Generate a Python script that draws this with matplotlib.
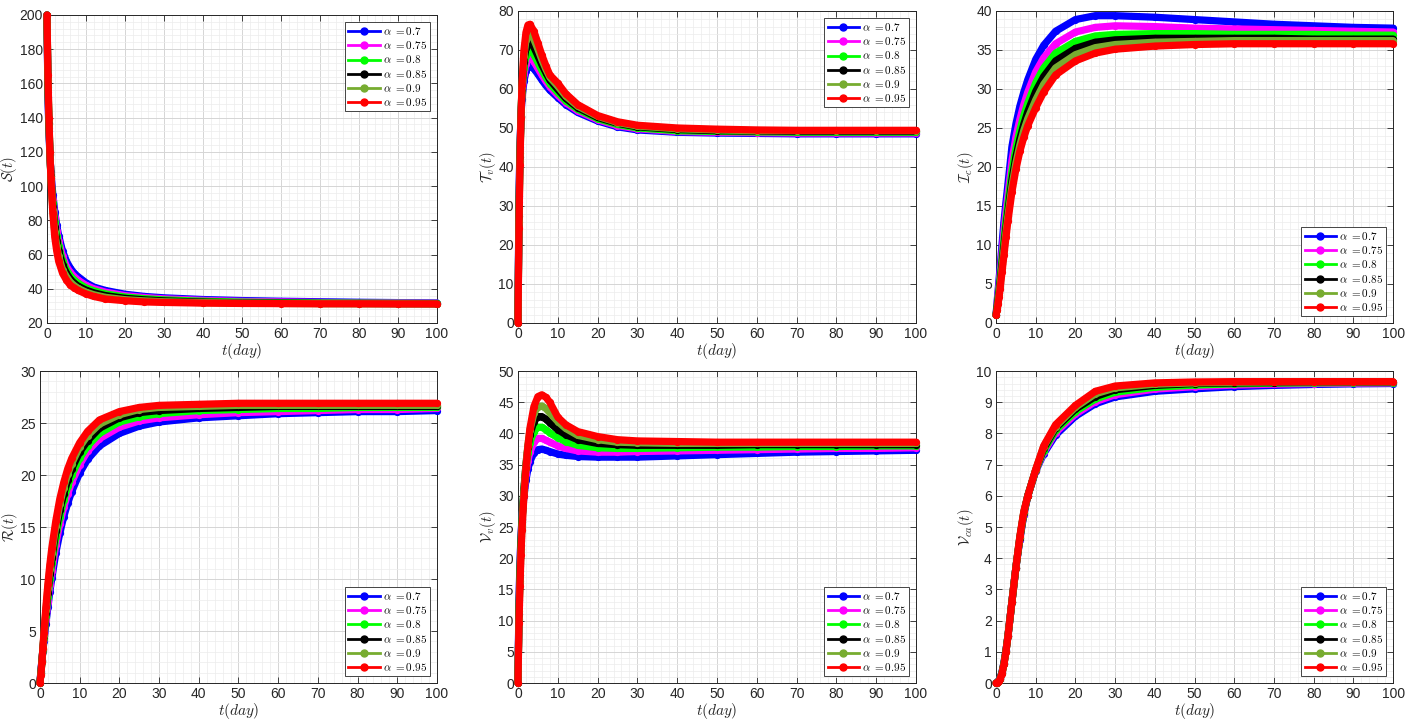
import numpy as np
import matplotlib
matplotlib.use('Agg')
import matplotlib.pyplot as plt
from matplotlib.lines import Line2D
from matplotlib.ticker import MultipleLocator, AutoMinorLocator

plt.rcParams['mathtext.fontset'] = 'cm'
plt.rcParams['font.family'] = ['Liberation Sans', 'DejaVu Sans']

# time points (days)
t = [0, 0.25, 0.5, 0.75, 1, 1.5, 2, 2.5, 3, 4, 5, 6, 7, 8, 10, 12, 15, 20,
     25, 30, 40, 50, 60, 70, 80, 90, 100]

alphas = ['0.7', '0.75', '0.8', '0.85', '0.9', '0.95']
colors = ['#0000ff', '#ff00ff', '#00ff00', '#000000', '#77ac30', '#ff0000']

###S(t)###
S_07 = [200, 152, 132, 118, 108, 95, 85, 77, 71, 62, 56, 52, 49, 47, 43.5, 41, 39, 36.8,
        35.5, 34.7, 33.7, 33.1, 32.7, 32.4, 32.1, 31.9, 31.7]
S_075 = [200, 155, 134, 119, 107, 92, 82, 74, 68, 59, 53, 49.5, 47, 45, 42, 40, 38, 36,
         34.9, 34.1, 33.2, 32.6, 32.3, 32.0, 31.8, 31.7, 31.5]
S_08 = [200, 158, 136, 119, 106, 90, 79, 71, 65, 56, 51, 47.5, 45, 43.2, 40.5, 38.8, 37, 35.2,
        34.2, 33.5, 32.7, 32.2, 31.9, 31.7, 31.6, 31.5, 31.4]
S_085 = [200, 160, 137, 120, 106, 88, 76, 68, 62, 54, 49, 45.5, 43.2, 41.5, 39.2, 37.6, 36, 34.4,
         33.5, 32.9, 32.2, 31.8, 31.6, 31.4, 31.4, 31.3, 31.2]
S_09 = [200, 162, 139, 120, 105, 86, 73, 65, 59, 51, 47, 43.8, 41.8, 40.2, 38, 36.5, 35, 33.6,
        32.9, 32.4, 31.9, 31.6, 31.4, 31.3, 31.2, 31.2, 31.1]
S_095 = [200, 165, 140, 120, 105, 84, 70, 62, 56, 49, 45, 42, 40.5, 39, 37, 35.5, 34, 33,
         32.3, 32, 31.6, 31.4, 31.3, 31.2, 31.2, 31.1, 31.1]

###T_v(t)###
T_07 = [0, 32.5, 45, 53, 57.5, 62, 64.5, 65.7, 66, 65.2, 63.8, 62.3, 60.9, 59.7, 57.8, 56, 54, 51.8,
        50.3, 49.5, 48.9, 48.7, 48.6, 48.5, 48.5, 48.5, 48.5]
T_075 = [0, 31, 44.5, 53, 58.5, 63.8, 66.5, 67.8, 68, 67, 65.3, 63.6, 62, 60.6, 58.4, 56.5, 54.4, 52.1,
         50.6, 49.8, 49.1, 48.9, 48.8, 48.7, 48.7, 48.7, 48.7]
T_08 = [0, 29.5, 43.5, 53, 59.5, 65.5, 68.5, 69.8, 70, 68.8, 66.8, 64.8, 63, 61.4, 59.1, 57, 54.8, 52.4,
        50.9, 50, 49.3, 49.1, 49, 48.9, 48.9, 48.9, 48.9]
T_085 = [0, 27.5, 42.5, 52.8, 60, 67, 70.5, 71.8, 72, 70.7, 68.5, 66.2, 64.2, 62.3, 59.9, 57.6, 55.2, 52.7,
         51.2, 50.3, 49.6, 49.3, 49.2, 49.1, 49.1, 49.1, 49.1]
T_09 = [0, 26, 41.5, 52.7, 60.5, 68.5, 72.5, 74, 74.2, 72.7, 70.2, 67.5, 65.1, 63, 60.7, 58.2, 55.6, 53,
        51.4, 50.5, 49.8, 49.5, 49.3, 49.3, 49.3, 49.3, 49.3]
T_095 = [0, 24.3, 40.5, 52.5, 61, 70, 74.5, 76.4, 76.6, 74.8, 71.8, 68.7, 66, 63.6, 61.5, 58.8, 56, 53.2,
         51.6, 50.7, 50, 49.7, 49.5, 49.4, 49.4, 49.4, 49.4]

###I_c(t)###
I_07 = [1, 2.6, 4, 5.5, 7, 10, 13, 15.5, 17.8, 22.6, 25.5, 27.8, 29.6, 31.2, 33.8, 35.6, 37.4, 38.9,
        39.4, 39.4, 39.2, 38.9, 38.6, 38.3, 38.1, 37.9, 37.8]
I_075 = [1, 2.3, 3.5, 4.8, 6.2, 9, 11.7, 14.2, 16.4, 20.8, 23.8, 26.1, 28, 29.6, 32.2, 34, 35.8, 37.3,
         37.9, 38.1, 38.0, 37.8, 37.7, 37.6, 37.5, 37.4, 37.3]
I_08 = [1, 2.1, 3.2, 4.3, 5.6, 8.2, 10.7, 13.1, 15.3, 19.4, 22.4, 24.7, 26.6, 28.2, 30.8, 32.7, 34.6, 36.1,
        36.8, 37, 37.1, 37.1, 37, 37, 37, 36.9, 36.9]
I_085 = [1, 1.9, 2.9, 3.9, 5.1, 7.5, 9.9, 12.2, 14.3, 18.3, 21.3, 23.6, 25.5, 27.1, 29.7, 31.6, 33.6, 35.2,
         36, 36.3, 36.5, 36.5, 36.5, 36.5, 36.4, 36.4, 36.4]
I_09 = [1, 1.7, 2.6, 3.6, 4.7, 7, 9.3, 11.6, 13.7, 17.5, 20.5, 22.8, 24.7, 26.2, 28.6, 30.6, 32.7, 34.4,
        35.3, 35.7, 36, 36.1, 36.2, 36.2, 36.2, 36.2, 36.2]
I_095 = [1, 1.6, 2.4, 3.3, 4.3, 6.5, 8.7, 11, 13.1, 16.8, 19.7, 22, 23.8, 25.3, 27.6, 29.6, 31.8, 33.6,
         34.6, 35.1, 35.5, 35.7, 35.8, 35.8, 35.8, 35.8, 35.8]

###R(t)###
R_07 = [0, 1.2, 2.2, 3.1, 4, 5.7, 7.3, 8.8, 10.1, 12.5, 14.4, 16, 17.3, 18.4, 20.2, 21.5, 22.8, 24,
        24.7, 25.1, 25.5, 25.7, 25.9, 26, 26.1, 26.1, 26.2]
R_075 = [0, 1.1, 2.2, 3.2, 4.2, 6.1, 7.8, 9.4, 10.8, 13.3, 15.3, 16.9, 18.2, 19.3, 21, 22.3, 23.5, 24.6,
         25.2, 25.5, 25.8, 26, 26.1, 26.2, 26.3, 26.3, 26.4]
R_08 = [0, 1, 2.1, 3.2, 4.3, 6.4, 8.3, 10, 11.5, 14, 16, 17.6, 18.9, 20, 21.6, 22.8, 24, 25.1,
        25.6, 25.9, 26.2, 26.3, 26.4, 26.4, 26.5, 26.5, 26.5]
R_085 = [0, 0.95, 2.1, 3.3, 4.5, 6.7, 8.7, 10.5, 12, 14.6, 16.6, 18.2, 19.5, 20.6, 22.2, 23.3, 24.5, 25.5,
         26, 26.2, 26.4, 26.5, 26.6, 26.6, 26.6, 26.6, 26.6]
R_09 = [0, 0.9, 2, 3.3, 4.6, 7, 9.1, 11, 12.5, 15.1, 17.2, 18.8, 20.1, 21.1, 22.7, 23.8, 24.9, 25.8,
        26.3, 26.5, 26.6, 26.7, 26.7, 26.7, 26.7, 26.7, 26.7]
R_095 = [0, 0.8, 2, 3.4, 4.8, 7.3, 9.5, 11.4, 13, 15.6, 17.7, 19.3, 20.6, 21.6, 23.1, 24.2, 25.3, 26.1,
         26.5, 26.7, 26.8, 26.9, 26.9, 26.9, 26.9, 26.9, 26.9]

###V_v(t)###
Vv_07 = [0, 13.3, 19.3, 23.5, 26.3, 30, 32.5, 34.3, 35.5, 36.9, 37.4, 37.5, 37.3, 37.1, 36.7, 36.5, 36.3, 36.2,
         36.2, 36.2, 36.4, 36.6, 36.8, 37, 37.1, 37.2, 37.3]
Vv_075 = [0, 12.5, 18.7, 23.2, 26.3, 30.6, 33.5, 35.6, 37, 38.6, 39.2, 39.2, 38.9, 38.6, 38, 37.6, 37.2, 37,
          37, 37.1, 37.2, 37.3, 37.4, 37.5, 37.6, 37.6, 37.7]
Vv_08 = [0, 11.6, 18, 22.7, 26.1, 31, 34.4, 36.8, 38.5, 40.3, 41, 41, 40.6, 40.1, 39.3, 38.7, 38.1, 37.7,
         37.6, 37.6, 37.7, 37.8, 37.8, 37.9, 37.9, 38, 38]
Vv_085 = [0, 11, 17.3, 22.2, 25.8, 31.2, 35, 37.8, 39.8, 41.9, 42.7, 42.7, 42.3, 41.7, 40.6, 39.8, 39, 38.4,
          38.2, 38.1, 38.1, 38.1, 38.2, 38.2, 38.2, 38.2, 38.2]
Vv_09 = [0, 10.3, 16.4, 21.4, 25.2, 30.8, 35, 38.2, 40.5, 43.2, 44.3, 44.4, 44, 43.3, 41.9, 40.8, 39.7, 39,
         38.6, 38.5, 38.4, 38.4, 38.4, 38.4, 38.4, 38.4, 38.4]
Vv_095 = [0, 9.6, 15.5, 20.5, 24.5, 30, 34.5, 38, 40.8, 44.3, 45.9, 46.2, 45.8, 45, 42.6, 41.4, 40.3, 39.5,
          39, 38.8, 38.7, 38.6, 38.6, 38.6, 38.6, 38.6, 38.6]

###V_ca(t)###
Vca_07 = [0, 0.02, 0.05, 0.1, 0.16, 0.35, 0.65, 1.05, 1.5, 2.6, 3.7, 4.6, 5.4, 6.0, 6.8, 7.35, 7.95, 8.55,
          8.95, 9.17, 9.35, 9.43, 9.5, 9.54, 9.57, 9.59, 9.6]
Vca_075 = [0, 0.02, 0.05, 0.09, 0.15, 0.34, 0.64, 1.04, 1.5, 2.6, 3.7, 4.62, 5.42, 6.0, 6.81, 7.4, 8.03, 8.62,
           9.02, 9.24, 9.42, 9.5, 9.55, 9.58, 9.6, 9.61, 9.62]
Vca_08 = [0, 0.015, 0.04, 0.09, 0.14, 0.33, 0.63, 1.03, 1.5, 2.6, 3.7, 4.64, 5.44, 6.0, 6.82, 7.45, 8.1, 8.7,
          9.1, 9.32, 9.48, 9.55, 9.59, 9.61, 9.62, 9.63, 9.63]
Vca_085 = [0, 0.015, 0.04, 0.08, 0.13, 0.32, 0.62, 1.02, 1.5, 2.6, 3.7, 4.66, 5.46, 6.0, 6.83, 7.52, 8.17, 8.78,
           9.18, 9.4, 9.54, 9.6, 9.62, 9.63, 9.64, 9.64, 9.64]
Vca_09 = [0, 0.01, 0.035, 0.075, 0.125, 0.31, 0.61, 1.01, 1.5, 2.6, 3.7, 4.68, 5.48, 6.0, 6.84, 7.58, 8.22, 8.84,
          9.27, 9.46, 9.58, 9.62, 9.64, 9.65, 9.65, 9.65, 9.65]
Vca_095 = [0, 0.01, 0.03, 0.07, 0.12, 0.3, 0.6, 1.0, 1.5, 2.6, 3.7, 4.7, 5.5, 6.0, 6.85, 7.6, 8.28, 8.9,
           9.35, 9.52, 9.62, 9.65, 9.66, 9.66, 9.66, 9.66, 9.66]

panels = [
    ([S_07, S_075, S_08, S_085, S_09, S_095], r'$\mathcal{S}(t)$', (20, 200), 20, 'upper right'),
    ([T_07, T_075, T_08, T_085, T_09, T_095], r'$\mathcal{T}_v(t)$', (0, 80), 10, 'upper right'),
    ([I_07, I_075, I_08, I_085, I_09, I_095], r'$\mathcal{I}_c(t)$', (0, 40), 5, 'lower right'),
    ([R_07, R_075, R_08, R_085, R_09, R_095], r'$\mathcal{R}(t)$', (0, 30), 5, 'lower right'),
    ([Vv_07, Vv_075, Vv_08, Vv_085, Vv_09, Vv_095], r'$\mathcal{V}_v(t)$', (0, 50), 5, 'lower right'),
    ([Vca_07, Vca_075, Vca_08, Vca_085, Vca_09, Vca_095], r'$\mathcal{V}_{ca}(t)$', (0, 10), 1, 'lower right'),
]

# axes boxes in figure fractions [left, bottom, width, height]
boxes = [
    [0.0333, 0.5533, 0.2764, 0.4260],
    [0.3671, 0.5533, 0.2821, 0.4315],
    [0.7059, 0.5533, 0.2814, 0.4315],
    [0.0283, 0.0553, 0.2814, 0.4315],
    [0.3671, 0.0553, 0.2821, 0.4315],
    [0.7059, 0.0553, 0.2814, 0.4315],
]

fig = plt.figure(figsize=(14.11, 7.23), dpi=100)

for (series, ylab, ylim, ystep, loc), box in zip(panels, boxes):
    ax = fig.add_axes(box)
    for y, c in zip(series, colors):
        ax.plot(t, y, '-o', color=c, lw=5.2, ms=5.2, mew=0, solid_joinstyle='round',
                solid_capstyle='round', clip_on=False, zorder=3)
    ax.set_xlim(0, 100)
    ax.set_ylim(*ylim)
    ax.xaxis.set_major_locator(MultipleLocator(10))
    ax.yaxis.set_major_locator(MultipleLocator(ystep))
    ax.xaxis.set_minor_locator(AutoMinorLocator(5))
    ax.yaxis.set_minor_locator(AutoMinorLocator(5))
    ax.grid(which='major', color='#d5d5d5', lw=0.7)
    ax.grid(which='minor', color='#ececec', lw=0.5)
    ax.set_axisbelow(True)
    ax.tick_params(which='both', direction='in', top=True, right=True,
                   labelsize=10, colors='#262626', pad=3)
    ax.tick_params(which='major', length=4, width=0.6)
    ax.tick_params(which='minor', length=0)
    for sp in ax.spines.values():
        sp.set_color('#262626')
        sp.set_linewidth(0.7)
    ax.set_xlabel(r'$t(day)$', fontsize=11, labelpad=0, color='#262626')
    ax.set_ylabel(ylab, fontsize=10.5, labelpad=0, color='#262626')

    handles = [Line2D([0], [0], color=c, lw=2, marker='o', ms=5) for c in colors]
    labels = [r'$\alpha\ {=}' + a + '$' for a in alphas]
    leg = ax.legend(handles, labels, loc=loc, fontsize=8, fancybox=False,
                    framealpha=1, edgecolor='#262626', handlelength=2.8,
                    handletextpad=0.3, borderpad=0.3, labelspacing=0.2,
                    borderaxespad=0.6)
    leg.get_frame().set_linewidth(0.6)

fig.savefig('out.png', dpi=100)
